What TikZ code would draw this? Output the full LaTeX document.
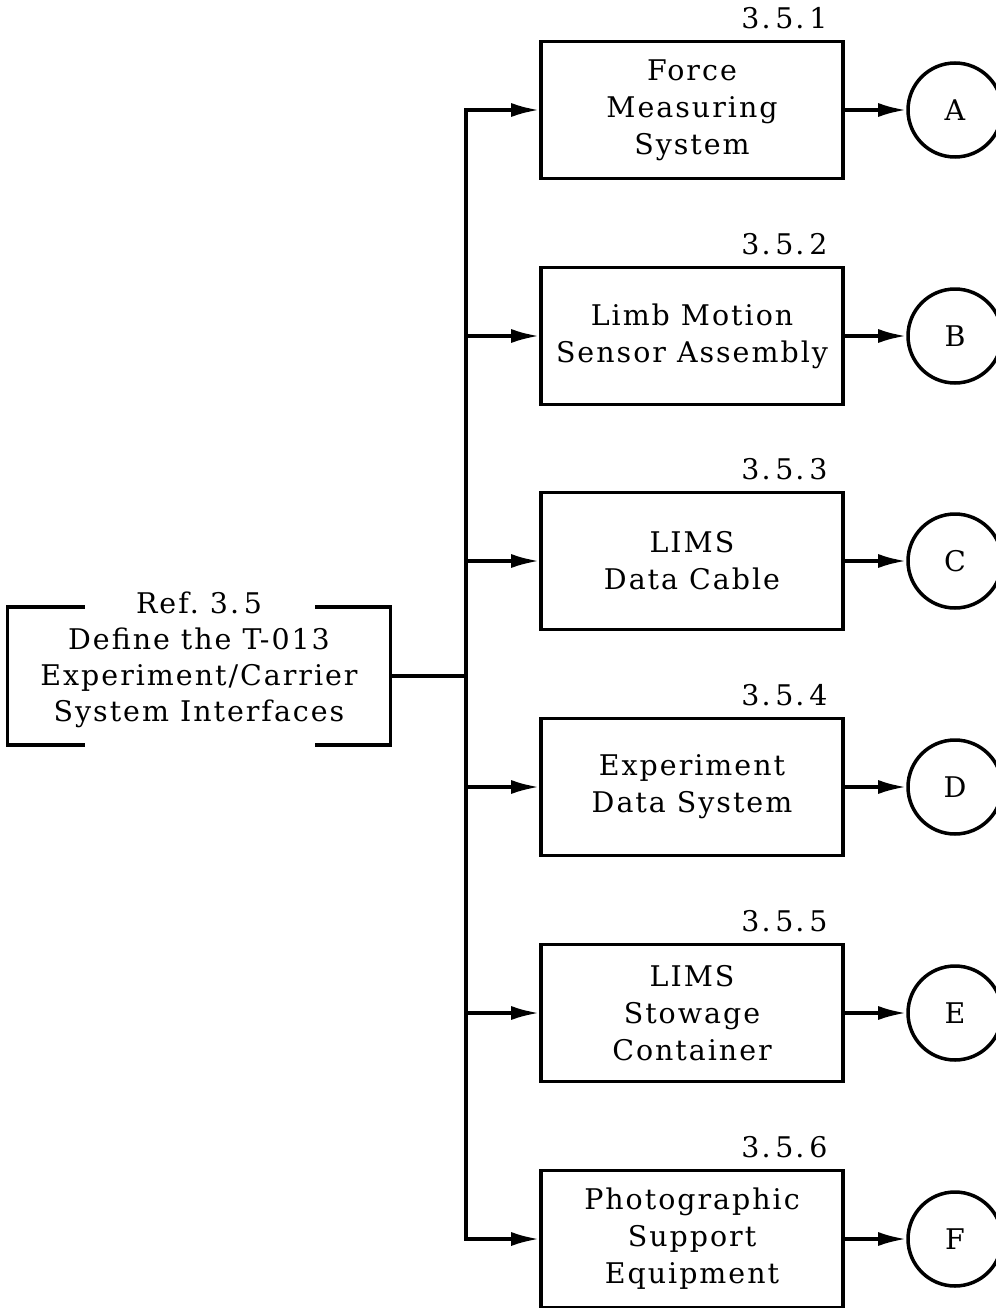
\documentclass[tikz,border=0pt]{standalone}
\usepackage{fontspec}
\setmainfont{DejaVu Serif}[LetterSpace=7]
\usetikzlibrary{arrows.meta,positioning}

\begin{document}
\begin{tikzpicture}[x=0.02cm, y=-0.02cm]
  \tikzset{blk/.style={draw, line width=2pt, minimum width=6.04cm, minimum height=2.74cm, align=center, inner sep=0pt, font=\fontsize{16.2}{21}\selectfont},
    num/.style={font=\fontsize{16.2}{18}\selectfont, inner sep=0pt, anchor=base east},
    ltr/.style={draw, circle, line width=2pt, minimum size=1.88cm, inner sep=0pt, font=\fontsize{16.2}{18}\selectfont},
    link/.style={line width=2pt, line cap=rect, -{Latex[length=16pt, width=8pt]}}}
  \useasboundingbox (0,0) rectangle (996,1308);
  % the reference block, open at top and bottom
  \node[minimum width=7.64cm, minimum height=2.74cm, inner sep=0pt] (refbox) at (199,676) {};
  \node[align=center, inner sep=0pt, font=\fontsize{16.2}{20.5}\selectfont] (reftext) at (199,660)
    {Ref.\ 3.\,5\\Define the T-013\\Experiment/Carrier\\System Interfaces};
  \draw[line width=2pt] ([xshift=1.54cm]refbox.north west) -- (refbox.north west) -- (refbox.south west) -- ([xshift=1.54cm]refbox.south west);
  \draw[line width=2pt] ([xshift=-1.5cm]refbox.north east) -- (refbox.north east) -- (refbox.south east) -- ([xshift=-1.5cm]refbox.south east);
  % the six sub-blocks
  \node[blk] (b1) at (692,110)  {Force\\Measuring\\System};
  \node[blk] (b2) at (692,336)  {Limb Motion\\Sensor Assembly};
  \node[blk] (b3) at (692,561)  {LIMS\\Data Cable};
  \node[blk] (b4) at (692,787)  {Experiment\\Data System};
  \node[blk] (b5) at (692,1013) {LIMS\\Stowage\\Container};
  \node[blk] (b6) at (692,1239) {Photographic\\Support\\Equipment};
  \node[num] (n1) at ([xshift=-0.34cm, yshift=0.22cm]b1.north east) {3.\,5.\,1};
  \node[num] (n2) at ([xshift=-0.34cm, yshift=0.22cm]b2.north east) {3.\,5.\,2};
  \node[num] (n3) at ([xshift=-0.34cm, yshift=0.22cm]b3.north east) {3.\,5.\,3};
  \node[num] (n4) at ([xshift=-0.34cm, yshift=0.22cm]b4.north east) {3.\,5.\,4};
  \node[num] (n5) at ([xshift=-0.34cm, yshift=0.22cm]b5.north east) {3.\,5.\,5};
  \node[num] (n6) at ([xshift=-0.34cm, yshift=0.22cm]b6.north east) {3.\,5.\,6};
  \node[ltr] (cA) at (955,110)  {A};
  \node[ltr] (cB) at (955,336)  {B};
  \node[ltr] (cC) at (955,561)  {C};
  \node[ltr] (cD) at (955,787)  {D};
  \node[ltr] (cE) at (955,1013) {E};
  \node[ltr] (cF) at (955,1239) {F};
  % trunk and branches
  \coordinate (jn) at (466,676);
  \draw[line width=2pt] (refbox.east) -- (jn);
  \draw[link] (jn |- b6.west) -- (jn |- b1.west) -- (b1.west);
  \draw[link] (jn |- b2.west) -- (b2.west);
  \draw[link] (jn |- b3.west) -- (b3.west);
  \draw[link] (jn |- b4.west) -- (b4.west);
  \draw[link] (jn |- b5.west) -- (b5.west);
  \draw[link] (jn |- b6.west) -- (b6.west);
  \draw[link] (b1) -- (cA);
  \draw[link] (b2) -- (cB);
  \draw[link] (b3) -- (cC);
  \draw[link] (b4) -- (cD);
  \draw[link] (b5) -- (cE);
  \draw[link] (b6) -- (cF);
\end{tikzpicture}
\end{document}
